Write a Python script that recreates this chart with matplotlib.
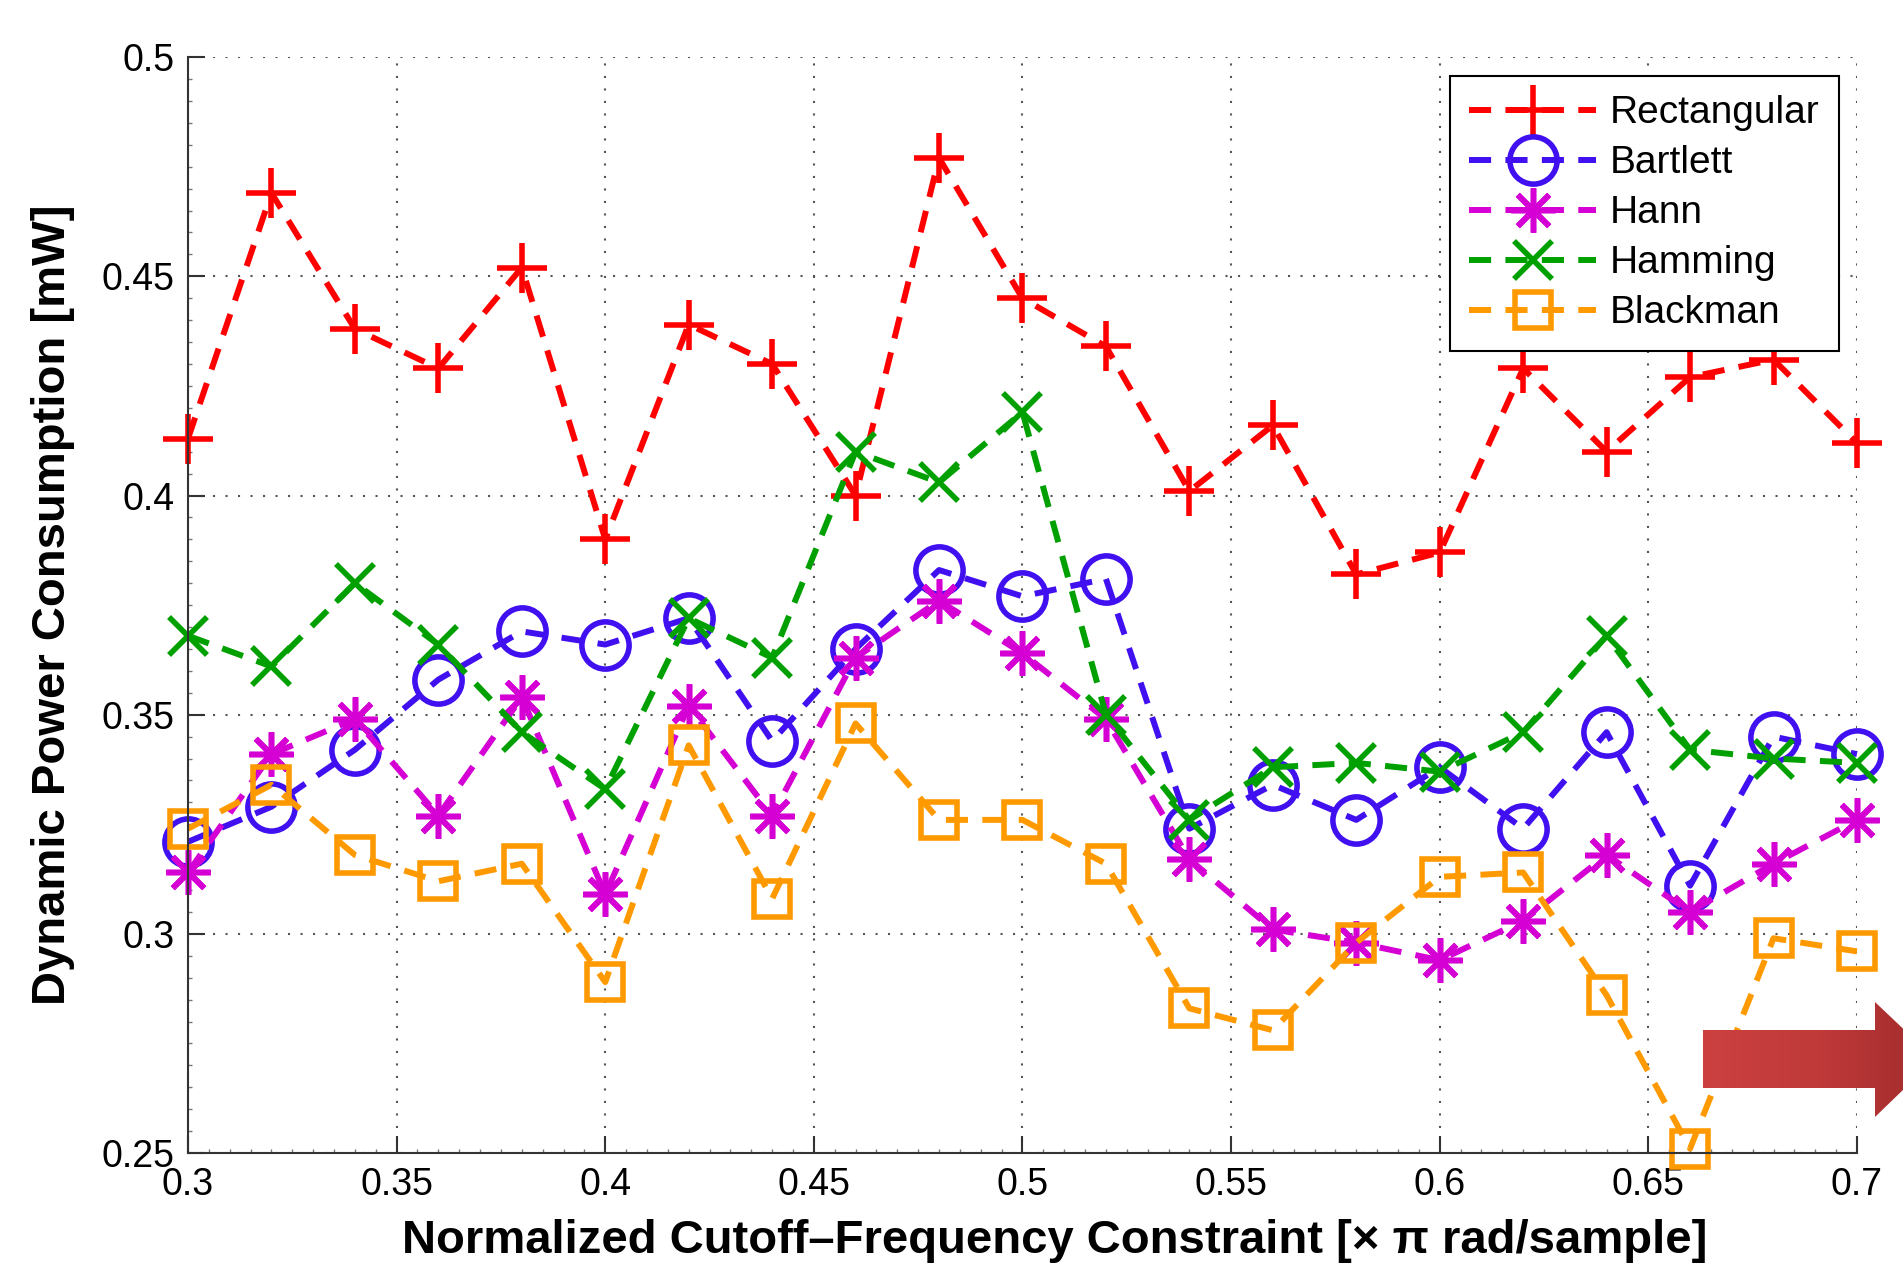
import numpy as np
import matplotlib
matplotlib.use('Agg')
import matplotlib.pyplot as plt
from matplotlib.ticker import MultipleLocator
from matplotlib.patches import Polygon
from matplotlib.colors import LinearSegmentedColormap

plt.rcParams['font.family'] = ['Liberation Sans', 'DejaVu Sans']

# cutoff frequencies (x pi rad/sample)
cutoff = [0.30, 0.32, 0.34, 0.36, 0.38, 0.40, 0.42, 0.44, 0.46, 0.48, 0.50,
          0.52, 0.54, 0.56, 0.58, 0.60, 0.62, 0.64, 0.66, 0.68, 0.70]

# dynamic power (mW) per window
rectangular = [0.413, 0.469, 0.438, 0.429, 0.452, 0.390, 0.439, 0.430, 0.400, 0.477, 0.445,
               0.434, 0.401, 0.416, 0.382, 0.387, 0.429, 0.410, 0.427, 0.431, 0.412]
bartlett = [0.321, 0.329, 0.342, 0.358, 0.369, 0.366, 0.372, 0.344, 0.365, 0.383, 0.377,
            0.381, 0.324, 0.334, 0.326, 0.338, 0.324, 0.346, 0.311, 0.345, 0.341]
hann = [0.314, 0.341, 0.349, 0.327, 0.354, 0.309, 0.352, 0.327, 0.363, 0.376, 0.364,
        0.349, 0.317, 0.301, 0.298, 0.294, 0.303, 0.318, 0.305, 0.316, 0.326]
hamming = [0.368, 0.361, 0.380, 0.366, 0.346, 0.333, 0.372, 0.363, 0.410, 0.403, 0.419,
           0.350, 0.326, 0.338, 0.339, 0.337, 0.346, 0.368, 0.342, 0.340, 0.339]
blackman = [0.324, 0.334, 0.318, 0.312, 0.316, 0.289, 0.343, 0.308, 0.348, 0.326, 0.326,
            0.316, 0.283, 0.278, 0.298, 0.313, 0.314, 0.286, 0.251, 0.299, 0.296]

series = [
    ('Rectangular', rectangular, '#ff0000', '+', 36),
    ('Bartlett', bartlett, '#4010f0', 'o', 34),
    ('Hann', hann, '#d400d4', (8, 2, 0), 32),
    ('Hamming', hamming, '#00a000', 'x', 27),
    ('Blackman', blackman, '#ff9900', 's', 26),
]

fig = plt.figure(figsize=(19.03, 12.70), dpi=100)
ax = fig.add_axes([0.0988, 0.0921, 0.877, 0.8629])

for name, vals, col, mk, ms in series:
    ax.plot(cutoff, vals, color=col, lw=4.3, dashes=(3.7, 2.4),
            marker=mk, markersize=ms, markerfacecolor='none',
            markeredgecolor=col, markeredgewidth=4, label=name, clip_on=False)

ax.set_xlim(0.3, 0.7)
ax.set_ylim(0.25, 0.5)
ax.xaxis.set_major_locator(MultipleLocator(0.05))
ax.yaxis.set_major_locator(MultipleLocator(0.05))
ax.xaxis.set_minor_locator(MultipleLocator(0.005))
ax.yaxis.set_minor_locator(MultipleLocator(0.005))
ax.xaxis.set_major_formatter(plt.FuncFormatter(lambda v, p: f'{v:g}'))
ax.yaxis.set_major_formatter(plt.FuncFormatter(lambda v, p: f'{v:g}'))

ax.grid(True, which='major', color='#555555', linestyle=(0, (1, 5)), lw=1.5)
ax.set_axisbelow(True)
for s in ['top', 'right']:
    ax.spines[s].set_visible(False)
for s in ['left', 'bottom']:
    ax.spines[s].set_color('#333333')
    ax.spines[s].set_linewidth(1.5)

ax.tick_params(which='major', direction='in', length=12, width=1.5, color='#333333',
               labelsize=27, pad=10)
ax.tick_params(which='minor', direction='in', length=3, width=1, color='#777777')

ax.set_xlabel('Normalized Cutoff\u2013Frequency Constraint [\u00d7 \u03c0 rad/sample]',
              fontsize=34, fontweight='bold')
ax.set_ylabel('Dynamic Power Consumption [mW]', fontsize=34, fontweight='bold')
ax.xaxis.set_label_coords(0.519, -0.06)
ax.yaxis.set_label_coords(-0.068, 0.5)

leg = ax.legend(loc='upper right', bbox_to_anchor=(0.989, 0.983), fontsize=28,
                fancybox=False, framealpha=1, edgecolor='black', handlelength=3.25,
                handletextpad=0.35, labelspacing=0.36, borderpad=0.5, borderaxespad=0)
leg.get_frame().set_linewidth(1.5)

# red arrow from the slide overlay (figure pixel space, y down)
over = fig.add_axes([0, 0, 1, 1], facecolor='none')
over.axis('off')
arrow = Polygon([[1703, 1030], [1875, 1030], [1875, 1002], [1935, 1059],
                 [1875, 1117], [1875, 1088], [1703, 1088]],
                closed=True, facecolor='none', edgecolor='none')
over.add_patch(arrow)
grad = np.linspace(0, 1, 256).reshape(1, -1)
cmap = LinearSegmentedColormap.from_list('arr', ['#cc4040', '#c03a3a', '#a02a2a'])
img = over.imshow(grad, cmap=cmap, extent=[1703, 1935, 1117, 1002], aspect='auto')
img.set_clip_path(arrow)
over.set_xlim(0, 1903)
over.set_ylim(1270, 0)

fig.savefig('out.png', dpi=100)
